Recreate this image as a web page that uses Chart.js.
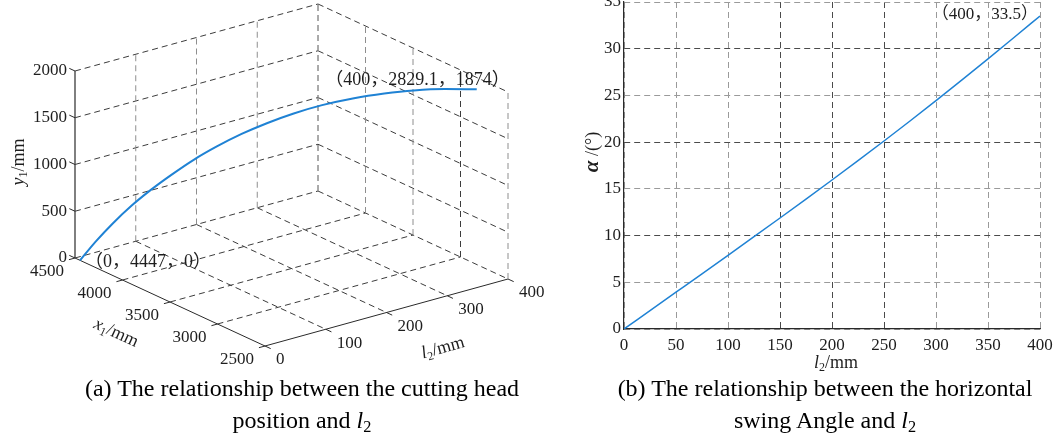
<!DOCTYPE html>
<html>
<head>
<meta charset="utf-8">
<script src="https://cdn.jsdelivr.net/npm/chart.js"></script>
<style>
  body { margin: 0; background: #fff; width: 1057px; height: 439px; overflow: hidden; position: relative; }
  .box { position: absolute; top: 0; height: 375px; }
  #left { left: 0; width: 545px; }
  #right { left: 560px; width: 497px; }
  .cap { position: absolute; top: 372px; text-align: center; font: 24px "Liberation Serif", serif; line-height: 32px; color: #000; white-space: nowrap; }
  .cap sub { font-size: 0.68em; line-height: 0; vertical-align: -0.25em; }
</style>
</head>
<body>
<div class="box" id="left"><canvas id="c3d"></canvas></div>
<div class="box" id="right"><canvas id="c2d"></canvas></div>
<div class="cap" id="capA" style="left:52px;width:500px">(a) The relationship between the cutting head<br>position and <i>l</i><sub>2</sub></div>
<div class="cap" id="capB" style="left:575px;width:500px">(b) The relationship between the horizontal<br>swing Angle and <i>l</i><sub>2</sub></div>
<script>
// cylinder stroke l2 (mm)
const l2 = [0, 25, 50, 75, 100, 125, 150, 175, 200, 225, 250, 275, 300, 325, 350, 375, 400];
// horizontal swing angle (deg)
const alpha = [0, 1.97, 3.94, 5.91, 7.89, 9.88, 11.88, 13.9, 15.95, 18.02, 20.12, 22.26, 24.45, 26.66, 28.91, 31.2, 33.5];
// cutting head position (mm)
const x1 = [4447, 4440.2, 4419.7, 4385.7, 4341.2, 4285.0, 4209.6, 4125.8, 4025.1, 3919.1, 3796.4, 3657.8, 3481.0, 3322.5, 3172.8, 3003.0, 2829.1];
const y1 = [0, 160.8, 320.5, 478.1, 624.2, 766.6, 918.1, 1055.4, 1191.9, 1312.0, 1428.8, 1538.5, 1651.3, 1730.8, 1789.9, 1840.0, 1874];

const l2Ticks3d = [0, 100, 200, 300, 400];
const x1Ticks = [4500, 4000, 3500, 3000, 2500];
const y1Ticks = [0, 500, 1000, 1500, 2000];
const l2Ticks = [0, 50, 100, 150, 200, 250, 300, 350, 400];
const alphaTicks = [0, 5, 10, 15, 20, 25, 30, 35];

const startLabel = '（0，4447，0）';
const endLabel = '（400，2829.1，1874）';
const endLabel2 = '（400，33.5）';

const BLUE = '#1f82d4';
const TXT = '#1e1e1e';
const FONT = '"Liberation Serif", "Noto Sans CJK SC", serif';

// simple oblique view of the 3d box (pixels per mm)
const V = { ox: 75, oy: 258, lx: 0.6075, ly: -0.1675, xx: 0.095, xy: 0.044, yy: -0.0935 };
function proj(l, x, y) {
  return { x: V.ox + V.lx * l + V.xx * (4500 - x), y: V.oy + V.ly * l + V.xy * (4500 - x) + V.yy * y };
}

function seg(a, b, color, dash, width) {
  return { data: [proj(...a), proj(...b)], showLine: true, pointRadius: 0, borderColor: color,
           borderWidth: width || 1, borderDash: dash || [], fill: false };
}

function rich(ctx, parts, x, y, rot) {
  ctx.save();
  ctx.translate(x, y);
  ctx.rotate(rot || 0);
  ctx.textBaseline = 'middle';
  ctx.textAlign = 'left';
  let w = 0;
  parts.forEach(p => { ctx.font = p.f; w += ctx.measureText(p.t).width; });
  let cx = -w / 2;
  parts.forEach(p => { ctx.font = p.f; ctx.fillText(p.t, cx, p.dy || 0); cx += ctx.measureText(p.t).width; });
  ctx.restore();
}

const ds3d = [];
ds3d.push({ data: l2.map((v, i) => proj(v, x1[i], y1[i])), showLine: true, pointRadius: 0,
            borderColor: BLUE, borderWidth: 2, cubicInterpolationMode: 'monotone', fill: false });
const DARK = '#3c3c3c', LIGHT = '#8e8e8e', D = [6, 4];
// back wall (x1 = 4500)
l2Ticks3d.slice(1).forEach(l => ds3d.push(seg([l, 4500, 0], [l, 4500, 2000], LIGHT, D)));
y1Ticks.slice(1).forEach(y => ds3d.push(seg([0, 4500, y], [400, 4500, y], DARK, D)));
// right wall (l2 = 400)
x1Ticks.forEach((x, i) => ds3d.push(seg([400, x, 0], [400, x, 2000], i == 3 ? DARK : LIGHT, D)));
y1Ticks.slice(1).forEach(y => ds3d.push(seg([400, 4500, y], [400, 2500, y], DARK, D)));
// floor
l2Ticks3d.slice(1).forEach(l => ds3d.push(seg([l, 4500, 0], [l, 2500, 0], DARK, D)));
x1Ticks.slice(0, 4).forEach(x => ds3d.push(seg([0, x, 0], [400, x, 0], DARK, D)));
// axes
ds3d.push(seg([0, 4500, 0], [0, 4500, 2000], '#2a2a2a', [], 1.2));
ds3d.push(seg([0, 4500, 0], [0, 2500, 0], '#2a2a2a', [], 1));
ds3d.push(seg([0, 2500, 0], [400, 2500, 0], '#2a2a2a', [], 1));
y1Ticks.forEach(y => ds3d.push(seg([0, 4500, y], [0, 4560, y], '#2a2a2a')));
x1Ticks.forEach(x => ds3d.push(seg([0, x, 0], [-10, x, 0], '#2a2a2a')));
l2Ticks3d.forEach(l => ds3d.push(seg([l, 2500, 0], [l, 2440, 0], '#2a2a2a')));

const labels3d = {
  id: 'labels3d',
  afterDraw(chart) {
    const ctx = chart.ctx, sx = chart.scales.x, sy = chart.scales.y;
    const px = p => ({ x: sx.getPixelForValue(p.x), y: sy.getPixelForValue(p.y) });
    ctx.save();
    ctx.fillStyle = TXT;
    ctx.font = '17px ' + FONT;
    ctx.textBaseline = 'middle';
    ctx.textAlign = 'right';
    y1Ticks.forEach(y => { const p = px(proj(0, 4500, y)); ctx.fillText(y, p.x - 8, p.y); });
    x1Ticks.forEach(x => { const p = px(proj(0, x, 0)); ctx.fillText(x, p.x - 11, p.y + 14); });
    ctx.textAlign = 'left';
    l2Ticks3d.forEach(l => { const p = px(proj(l, 2500, 0)); ctx.fillText(l, p.x + 11, p.y + 14); });
    // point labels
    ctx.font = '18px ' + FONT;
    const s = px(proj(l2[0], x1[0], y1[0]));
    ctx.fillText(startLabel, s.x + 5, s.y + 2);
    const e = px(proj(l2[16], x1[16], y1[16]));
    ctx.textAlign = 'right';
    ctx.fillText(endLabel, e.x + 33, e.y - 9);
    // axis titles
    const it = 'italic 18px ' + FONT, sub = '12px ' + FONT, rm = '18px ' + FONT;
    rich(ctx, [{ t: 'y', f: it }, { t: '1', f: sub, dy: 5 }, { t: '/mm', f: rm }], 19, 162, -Math.PI / 2);
    rich(ctx, [{ t: 'x', f: it }, { t: '1', f: sub, dy: 5 }, { t: '/mm', f: rm }], 116, 333, Math.atan2(V.xy, V.xx));
    rich(ctx, [{ t: 'l', f: it }, { t: '2', f: sub, dy: 5 }, { t: '/mm', f: rm }], 443, 348, Math.atan2(V.ly, V.lx));
    ctx.restore();
  }
};

new Chart(document.getElementById('c3d'), {
  type: 'scatter',
  data: { datasets: ds3d },
  options: {
    responsive: true, maintainAspectRatio: false, animation: false,
    layout: { padding: 0 },
    plugins: { legend: { display: false }, tooltip: { enabled: false } },
    scales: {
      x: { type: 'linear', display: false, min: 0, max: 545 },
      y: { type: 'linear', display: false, min: 0, max: 375, reverse: true }
    }
  },
  plugins: [labels3d]
});

const darkV = [150, 200, 250];
const labels2d = {
  id: 'labels2d',
  afterDraw(chart) {
    const ctx = chart.ctx, sx = chart.scales.x, sy = chart.scales.y;
    ctx.save();
    ctx.fillStyle = TXT;
    ctx.font = '17px ' + FONT;
    ctx.textBaseline = 'middle';
    ctx.textAlign = 'right';
    ctx.fillText(endLabel2, sx.getPixelForValue(400) - 2, sy.getPixelForValue(33.5) - 1);
    const rm = '18px ' + FONT;
    rich(ctx, [{ t: 'l', f: 'italic 18px ' + FONT }, { t: '2', f: '12px ' + FONT, dy: 5 }, { t: '/mm', f: rm }], 276, 363);
    rich(ctx, [{ t: 'α', f: 'bold italic 21px ' + FONT }, { t: ' /(°)', f: rm }], 33, 152, -Math.PI / 2);
    ctx.restore();
  }
};

new Chart(document.getElementById('c2d'), {
  type: 'line',
  data: { datasets: [{ data: l2.map((v, i) => ({ x: v, y: alpha[i] })), borderColor: BLUE, borderWidth: 1.5,
                       pointRadius: 0, cubicInterpolationMode: 'monotone', fill: false }] },
  options: {
    responsive: true, maintainAspectRatio: false, animation: false,
    layout: { padding: { top: 2, right: 17, left: 0, bottom: 0 } },
    plugins: { legend: { display: false }, tooltip: { enabled: false } },
    scales: {
      x: {
        type: 'linear', min: 0, max: 400,
        afterBuildTicks: s => { s.ticks = l2Ticks.map(v => ({ value: v })); },
        afterFit: s => { s.height = 46; s.paddingLeft = 0; s.paddingRight = 0; },
        ticks: { font: { family: FONT, size: 17 }, color: TXT, padding: 6, maxRotation: 0 },
        grid: { drawTicks: false, color: c => darkV.includes(c.tick.value) ? '#4a4a4a' : '#9a9a9a', lineWidth: 1 },
        border: { display: true, color: '#2a2a2a', width: 1.2, dash: [6, 4] }
      },
      y: {
        type: 'linear', min: 0, max: 35,
        afterBuildTicks: s => { s.ticks = alphaTicks.map(v => ({ value: v })); },
        afterFit: s => { s.width = 64; s.paddingTop = 0; s.paddingBottom = 0; },
        ticks: { font: { family: FONT, size: 17 }, color: TXT, padding: 3 },
        grid: { drawTicks: false, color: c => (c.tick.value % 10 == 0 && c.tick.value > 0) ? '#4a4a4a' : '#9a9a9a', lineWidth: 1 },
        border: { display: true, color: '#2a2a2a', width: 1.2, dash: [6, 4] }
      }
    }
  },
  plugins: [labels2d]
});
</script>
</body>
</html>
